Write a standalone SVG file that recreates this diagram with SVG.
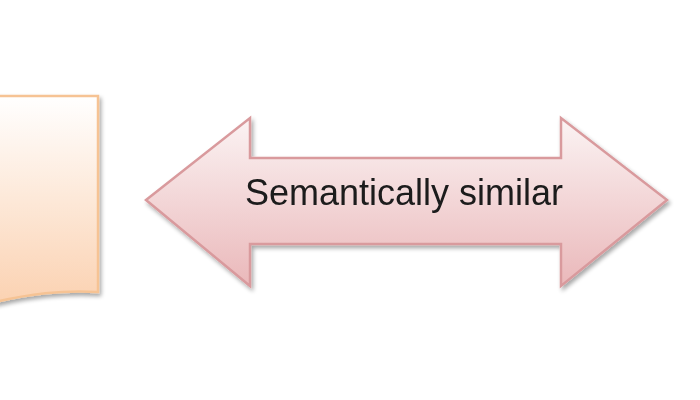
<svg xmlns="http://www.w3.org/2000/svg" width="700" height="400" viewBox="0 0 700 400">
  <defs>
    <linearGradient id="docGrad" x1="0" y1="0" x2="0" y2="1">
      <stop offset="0" stop-color="#FFFFFF"/>
      <stop offset="1" stop-color="#FBD2B2"/>
    </linearGradient>
    <linearGradient id="arrowGrad" x1="0" y1="0" x2="0" y2="1">
      <stop offset="0" stop-color="#FBF3F3"/>
      <stop offset="1" stop-color="#EAB8BA"/>
    </linearGradient>
    <filter id="shadow" x="-10%" y="-10%" width="130%" height="130%">
      <feGaussianBlur in="SourceAlpha" stdDeviation="2"/>
      <feOffset dx="2" dy="3" result="b"/>
      <feComponentTransfer><feFuncA type="linear" slope="0.35"/></feComponentTransfer>
      <feMerge><feMergeNode/><feMergeNode in="SourceGraphic"/></feMerge>
    </filter>
    <style>
      .doc { fill: url(#docGrad); stroke: #F6C394; stroke-width: 2.5; }
      .arrow { fill: url(#arrowGrad); stroke: #D99A9D; stroke-width: 2.5; stroke-linejoin: miter; }
      .label { font-family: "Liberation Sans", Arial, sans-serif; font-size: 36px; fill: #1a1a1a; }
    </style>
  </defs>
  <rect width="700" height="400" fill="#FFFFFF"/>
  <g id="document" filter="url(#shadow)">
    <path class="doc" d="M -5 96 L 98 96 L 98 292 C 60 290 30 294 -5 302 Z"/>
  </g>
  <g id="similar-arrow" filter="url(#shadow)">
    <path class="arrow" d="M 146 200 L 250 118 L 250 158 L 561 158 L 561 118 L 667 200 L 561 286 L 561 244 L 250 244 L 250 286 Z"/>
    <text class="label" x="404" y="205" text-anchor="middle">Semantically similar</text>
  </g>
</svg>
